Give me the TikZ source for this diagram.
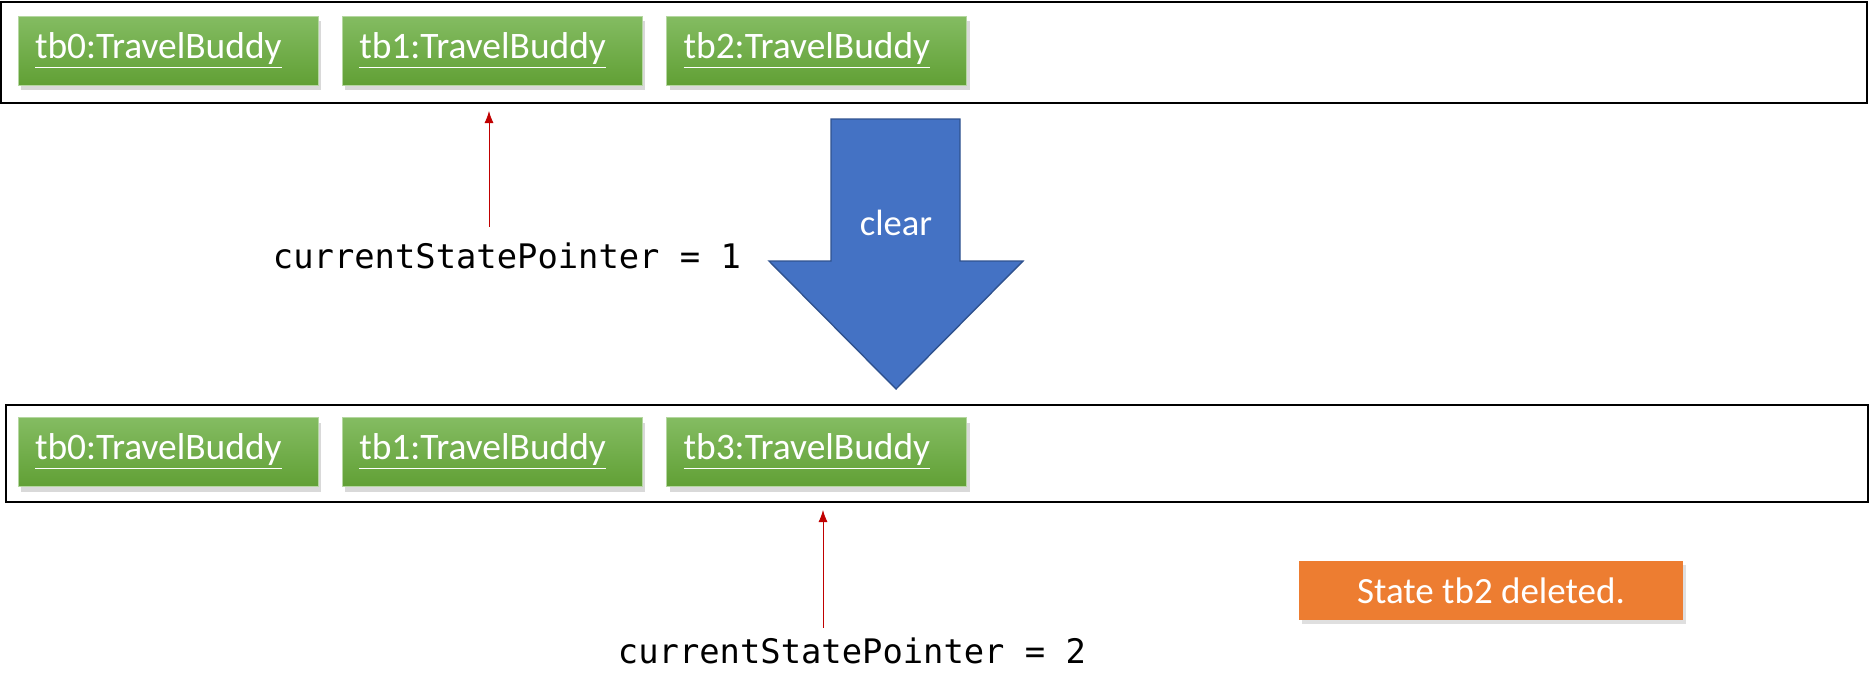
\documentclass[tikz,border=0pt]{standalone}
\usepackage{fontspec}
\setmainfont{Carlito}
\newfontfamily\codefont{DejaVu Sans Mono}
\usetikzlibrary{positioning, shadows, arrows.meta}
\definecolor{stategreentop}{RGB}{132,188,98}
\definecolor{stategreenbot}{RGB}{97,160,53}
\definecolor{clearblue}{RGB}{68,114,196}
\definecolor{clearedge}{RGB}{47,82,143}
\definecolor{noteorange}{RGB}{237,125,49}
\definecolor{ptrred}{RGB}{192,0,0}
\begin{document}
\begin{tikzpicture}[
  x=0.5pt, y=-0.5pt,
  frame/.style={draw, line width=1pt, minimum height=50pt},
  state/.style={text=white, top color=stategreentop, bottom color=stategreenbot, draw=stategreentop!60!white,
    minimum width=150pt, minimum height=34.5pt, text width=133pt, inner xsep=8.5pt, align=left,
    font=\fontsize{18.7}{22}\selectfont,
    drop shadow={shadow xshift=1.5pt, shadow yshift=-2.5pt, opacity=0.3}},
  note/.style={fill=noteorange, text=white, minimum width=192pt, minimum height=29.5pt,
    font=\fontsize{18.5}{22}\selectfont,
    drop shadow={shadow xshift=1.5pt, shadow yshift=-2pt, opacity=0.25}},
  ptr/.style={font=\codefont\fontsize{16.9}{20}\selectfont},
  arr/.style={-{Latex[length=6pt, width=4.5pt]}, draw=ptrred, fill=ptrred, line width=0.4pt}
]
\useasboundingbox (0,0) rectangle (1870,696);
% states before clear
\node[frame, minimum width=933pt, minimum height=50.5pt] (before) at (934,52.5) {};
\node[state] (b0) at (168,50.5) {\underline{tb0:TravelBuddy}};
\node[state, right=11.75pt of b0] (b1) {\underline{tb1:TravelBuddy}};
\node[state, right=11.75pt of b1] (b2) {\underline{tb2:TravelBuddy}};
\node[ptr] (ptr1) at (507,256) {currentStatePointer = 1};
\coordinate (tip1) at (489,111);
\draw[arr, shorten <=4.5pt] (ptr1.north -| tip1) -- (tip1);
% clear arrow
\draw[draw=clearedge, fill=clearblue, line width=0.7pt]
  (831,119) -- (960,119) -- (960,261) -- (1023,261) -- (896,389) -- (769,261) -- (831,261) -- cycle;
\node[text=white, font=\fontsize{18.3}{22}\selectfont] (clr) at (896,223) {clear};
% states after clear
\node[frame, minimum width=931pt, minimum height=48.5pt] (after) at (937,453.5) {};
\node[state] (c0) at (168,452) {\underline{tb0:TravelBuddy}};
\node[state, right=11.75pt of c0] (c1) {\underline{tb1:TravelBuddy}};
\node[state, right=11.75pt of c1] (c3) {\underline{tb3:TravelBuddy}};
\node[ptr] (ptr2) at (852,651) {currentStatePointer = 2};
\coordinate (tip2) at (823,510);
\draw[arr, shorten <=1.5pt] (ptr2.north -| tip2) -- (tip2);
\node[note] (msg) at (1491,590.5) {State tb2 deleted.};
\end{tikzpicture}
\end{document}
